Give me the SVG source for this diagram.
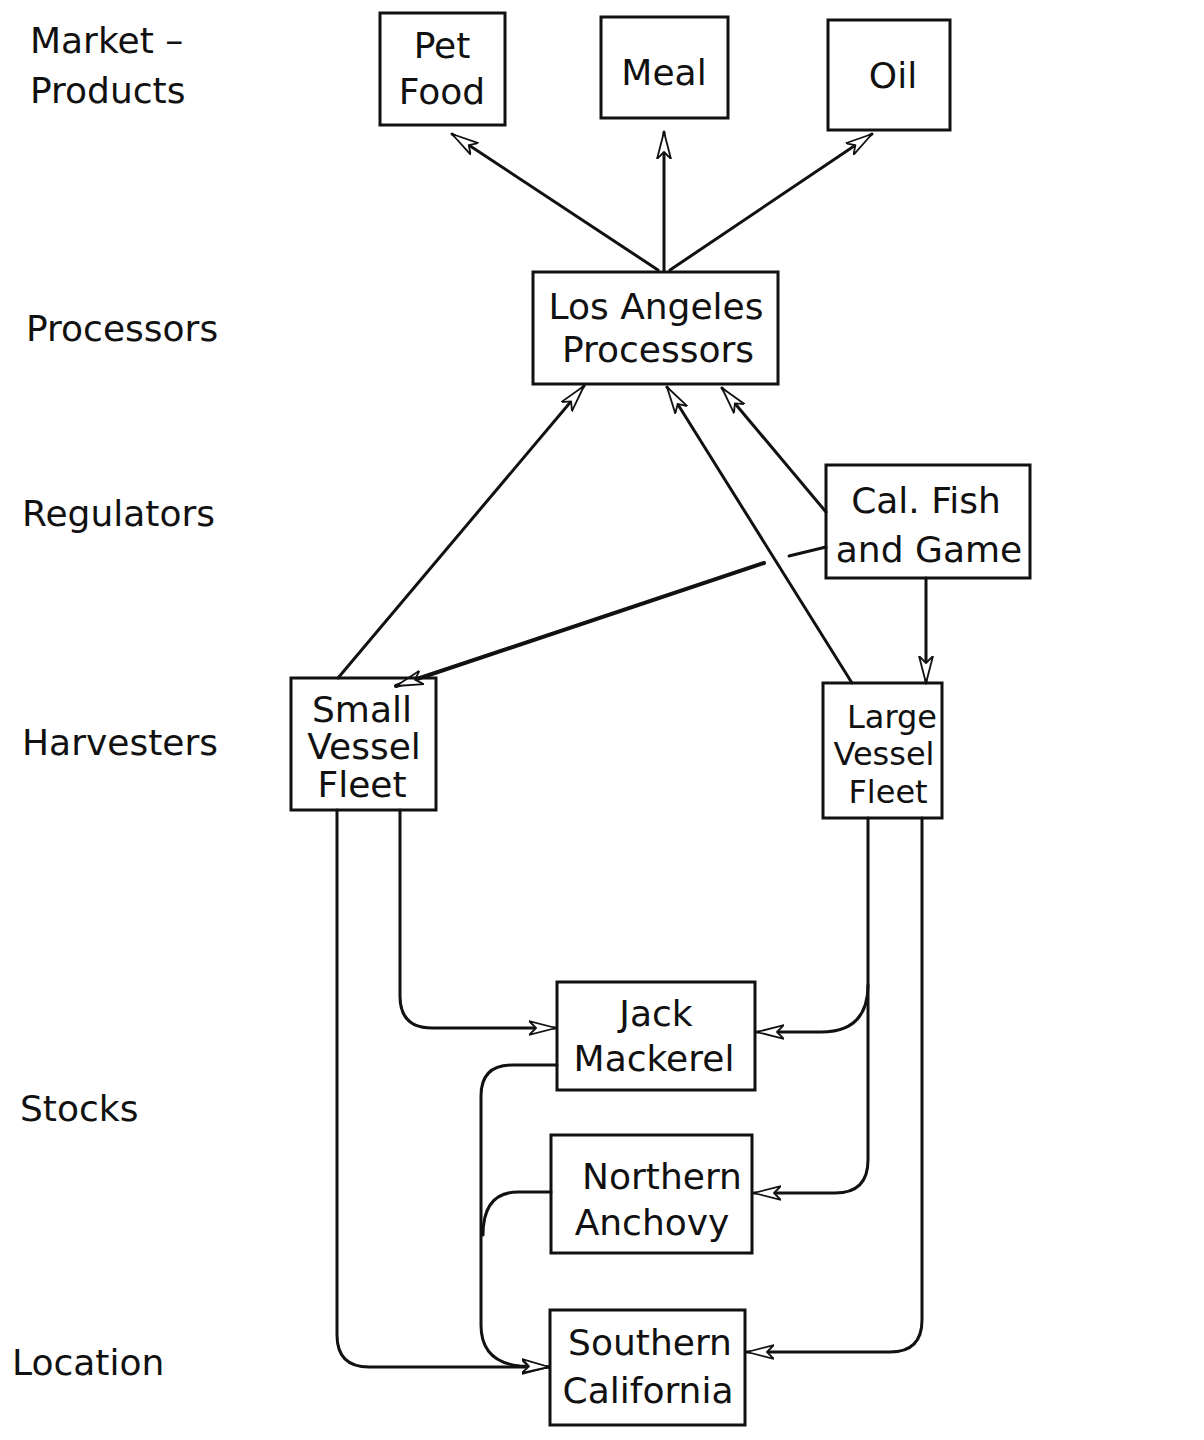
<svg xmlns="http://www.w3.org/2000/svg" width="1204" height="1440" viewBox="0 0 1204 1440">
<style>
.bx{fill:none;stroke:#111;stroke-width:3}
.t{font-family:"DejaVu Sans","Liberation Sans",sans-serif;font-size:36px;fill:#111;text-anchor:middle}
.s{font-size:32px}
.l{font-family:"DejaVu Sans","Liberation Sans",sans-serif;font-size:36px;fill:#111}
.c{fill:none;stroke:#111;stroke-width:3;stroke-linecap:round;stroke-linejoin:round}
.ca{marker-end:url(#arr)}
</style>
<defs>
<marker id="arr" viewBox="0 0 28 16" refX="27" refY="8" markerWidth="28" markerHeight="16" markerUnits="userSpaceOnUse" orient="auto">
<path d="M0,1 L27,8 L0,15 L7,8 Z" fill="#fff" stroke="#111" stroke-width="1.8" stroke-linejoin="round"/>
</marker>
</defs>
<rect width="1204" height="1440" fill="#fff"/>

<g id="labels">
<text class="l" x="30" y="53">Market –</text>
<text class="l" x="30" y="103">Products</text>
<text class="l" x="26" y="341">Processors</text>
<text class="l" x="22" y="526">Regulators</text>
<text class="l" x="22" y="755">Harvesters</text>
<text class="l" x="20" y="1121">Stocks</text>
<text class="l" x="12" y="1375">Location</text>
</g>

<g id="connectors">
<path class="c ca" d="M658,270 L452,134"/>
<path class="c ca" d="M664,270 L664,132"/>
<path class="c ca" d="M670,270 L872,134"/>
<path class="c ca" d="M338,678 L584,386"/>
<path class="c ca" d="M852,683 L667,387"/>
<path class="c ca" d="M826,512 L722,388"/>
<path class="c" d="M826,547 L789,556"/>
<path class="c ca" d="M764,563 L396,686" style="stroke-width:4"/>
<path class="c ca" d="M926,578 L926,683"/>
<path class="c ca" d="M337,810 V1335 Q337,1367 369,1367 H549"/>
<path class="c ca" d="M400,810 V996 Q400,1028 432,1028 H556"/>
<path class="c ca" d="M868,818 V1160 Q868,1193 835,1193 H754"/>
<path class="c ca" d="M868,985 Q868,1032 821,1032 H757"/>
<path class="c ca" d="M922,818 V1320 Q922,1352 890,1352 H747"/>
<path class="c ca" d="M557,1065 H512 Q481,1065 481,1096 V1325 Q481,1362 520,1366 L549,1367"/>
<path class="c" d="M551,1192 H518 Q483,1192 483,1235"/>
</g>

<g id="pet-food"><rect class="bx" x="380" y="13" width="125" height="112"/><text class="t" x="442" y="58">Pet</text><text class="t" x="442" y="104">Food</text></g>
<g id="meal"><rect class="bx" x="601" y="17" width="127" height="101"/><text class="t" x="664" y="85">Meal</text></g>
<g id="oil"><rect class="bx" x="828" y="20" width="122" height="110"/><text class="t" x="893" y="88">Oil</text></g>
<g id="la-processors"><rect class="bx" x="533" y="272" width="245" height="112"/><text class="t" x="656" y="319">Los Angeles</text><text class="t" x="658" y="362">Processors</text></g>
<g id="cal-fish-game"><rect class="bx" x="826" y="465" width="204" height="113"/><text class="t" x="926" y="513">Cal. Fish</text><text class="t" x="929" y="562">and Game</text></g>
<g id="small-vessel"><rect class="bx" x="291" y="678" width="145" height="132"/><text class="t" x="362" y="722">Small</text><text class="t" x="364" y="759">Vessel</text><text class="t" x="362" y="797">Fleet</text></g>
<g id="large-vessel"><rect class="bx" x="823" y="683" width="119" height="135"/><text class="t s" x="892" y="728">Large</text><text class="t s" x="884" y="765">Vessel</text><text class="t s" x="888" y="803">Fleet</text></g>
<g id="jack-mackerel"><rect class="bx" x="557" y="982" width="198" height="108"/><text class="t" x="656" y="1026">Jack</text><text class="t" x="654" y="1071">Mackerel</text></g>
<g id="northern-anchovy"><rect class="bx" x="551" y="1135" width="201" height="118"/><text class="t" x="662" y="1189">Northern</text><text class="t" x="652" y="1235">Anchovy</text></g>
<g id="southern-california"><rect class="bx" x="550" y="1310" width="195" height="115"/><text class="t" x="650" y="1355">Southern</text><text class="t" x="648" y="1403">California</text></g>
</svg>
